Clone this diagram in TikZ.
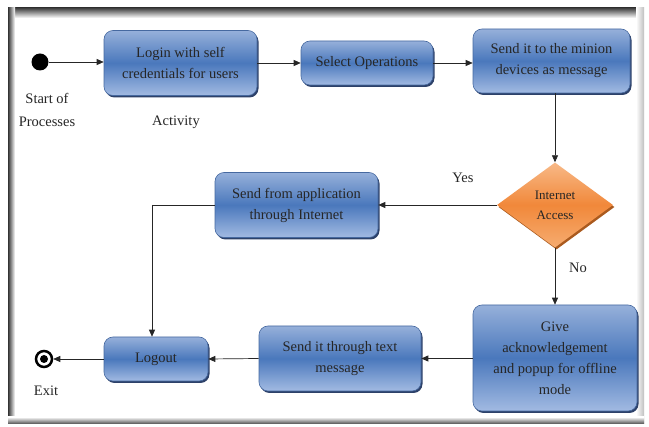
\documentclass[tikz,border=0pt]{standalone}
\usepackage{fontspec}
\setmainfont{Liberation Serif}
\usetikzlibrary{shapes.geometric,arrows.meta,shadows}
\definecolor{btop}{RGB}{150,176,218}
\definecolor{bmid}{RGB}{74,120,188}
\definecolor{bbot}{RGB}{162,186,226}
\definecolor{bdraw}{RGB}{70,105,160}
\definecolor{bshad}{RGB}{45,65,105}
\definecolor{otop}{RGB}{248,185,135}
\definecolor{omid}{RGB}{241,136,58}
\definecolor{obot}{RGB}{246,172,112}
\definecolor{oshad}{RGB}{170,90,30}
\tikzset{
  box/.style={rectangle, rounded corners=9pt, draw=bdraw, line width=0.6pt,
    top color=btop, bottom color=bbot, middle color=bmid,
    drop shadow={shadow xshift=1.5pt, shadow yshift=-2pt, fill=bshad, opacity=1},
    align=center, font=\fontsize{14.5}{21}\selectfont, text=black!85, inner sep=2pt},
  dec/.style={shape=diamond, inner sep=0pt, minimum width=116pt, minimum height=85pt,
    top color=otop, bottom color=obot, middle color=omid, draw=none,
    drop shadow={shadow xshift=1.5pt, shadow yshift=-2pt, fill=oshad, opacity=1},
    align=center, font=\fontsize{13}{20}\selectfont, text=black!85},
  lbl/.style={font=\fontsize{14.5}{23}\selectfont, align=center, text=black!85},
  arr/.style={-{Triangle[length=7pt,width=6pt]}, line width=0.7pt, black!85},
  ln/.style={line width=0.7pt, black!85}
}
\begin{document}
\begin{tikzpicture}[x=1pt,y=-1pt]
\useasboundingbox (0,0) rectangle (649,427);
% frame
\fill[white] (0,0) rectangle (649,427);
\shade[top color=black!75, bottom color=white] (8,8) rectangle (643,18);
\shade[left color=black!80, right color=white] (8,8) rectangle (15,424);
\shade[left color=white, right color=black!25] (636,8) rectangle (644,424);
\shade[top color=white, bottom color=black!70] (8,417) rectangle (644,424);
\fill[white] (15,18) rectangle (636,417);
% nodes
\node[circle, fill=black, minimum size=17pt, inner sep=0pt] (start) at (40,62) {};
\node[lbl] (startlbl) at (47,110) {Start of\\Processes};
\node[box, minimum width=153pt, minimum height=65pt] (login) at (180.5,63) {Login with self\\credentials for users};
\node[lbl] (actlbl) at (176,122) {Activity};
\node[box, minimum width=132pt, minimum height=44pt] (select) at (367,63) {Select Operations};
\node[box, minimum width=157pt, minimum height=64pt] (minion) at (551.5,61) {Send it to the minion\\devices as message};
\node[dec] (dia) at (555,205) {Internet\\Access};
\node[lbl] (yes) at (463,178) {Yes};
\node[lbl] (no) at (578,268) {No};
\node[box, minimum width=163pt, minimum height=65pt] (sendapp) at (296.5,205) {Send from application\\through Internet};
\node[box, minimum width=164pt, minimum height=106pt] (give) at (555,358) {Give\\acknowledgement\\and popup for offline\\mode};
\node[box, minimum width=162pt, minimum height=65pt] (sendtext) at (340,358.5) {Send it through text\\message};
\node[box, minimum width=104pt, minimum height=44pt] (logout) at (156,359) {Logout};
\node[circle, draw=black, line width=2.5pt, fill=white, minimum size=16pt, inner sep=0pt] (exit) at (44,359) {};
\node[circle, fill=black, minimum size=8pt, inner sep=0pt] (exitdot) at (44,359) {};
\node[lbl] (exitlbl) at (46,391) {Exit};
\coordinate (bend) at (152,205);
% connectors
\draw[arr] (start) -- (login.west |- start);
\draw[arr] (login.east |- select) -- (select.west);
\draw[arr] (select.east) -- (minion.west |- select.east);
\draw[arr] (dia.north |- minion.south) -- (dia.north);
\draw[arr] (dia.west) -- (sendapp.east |- dia.west);
\draw[arr] (dia.south) -- (give.north);
\draw[arr] (give.west |- sendtext) -- (sendtext.east);
\draw[arr] (sendtext.west) -- (logout.east);
\draw[arr] (logout.west) -- (exit.east);
\draw[ln] (sendapp.west) -- (bend);
\draw[arr] (bend) -- (bend |- logout.north);
\end{tikzpicture}
\end{document}
